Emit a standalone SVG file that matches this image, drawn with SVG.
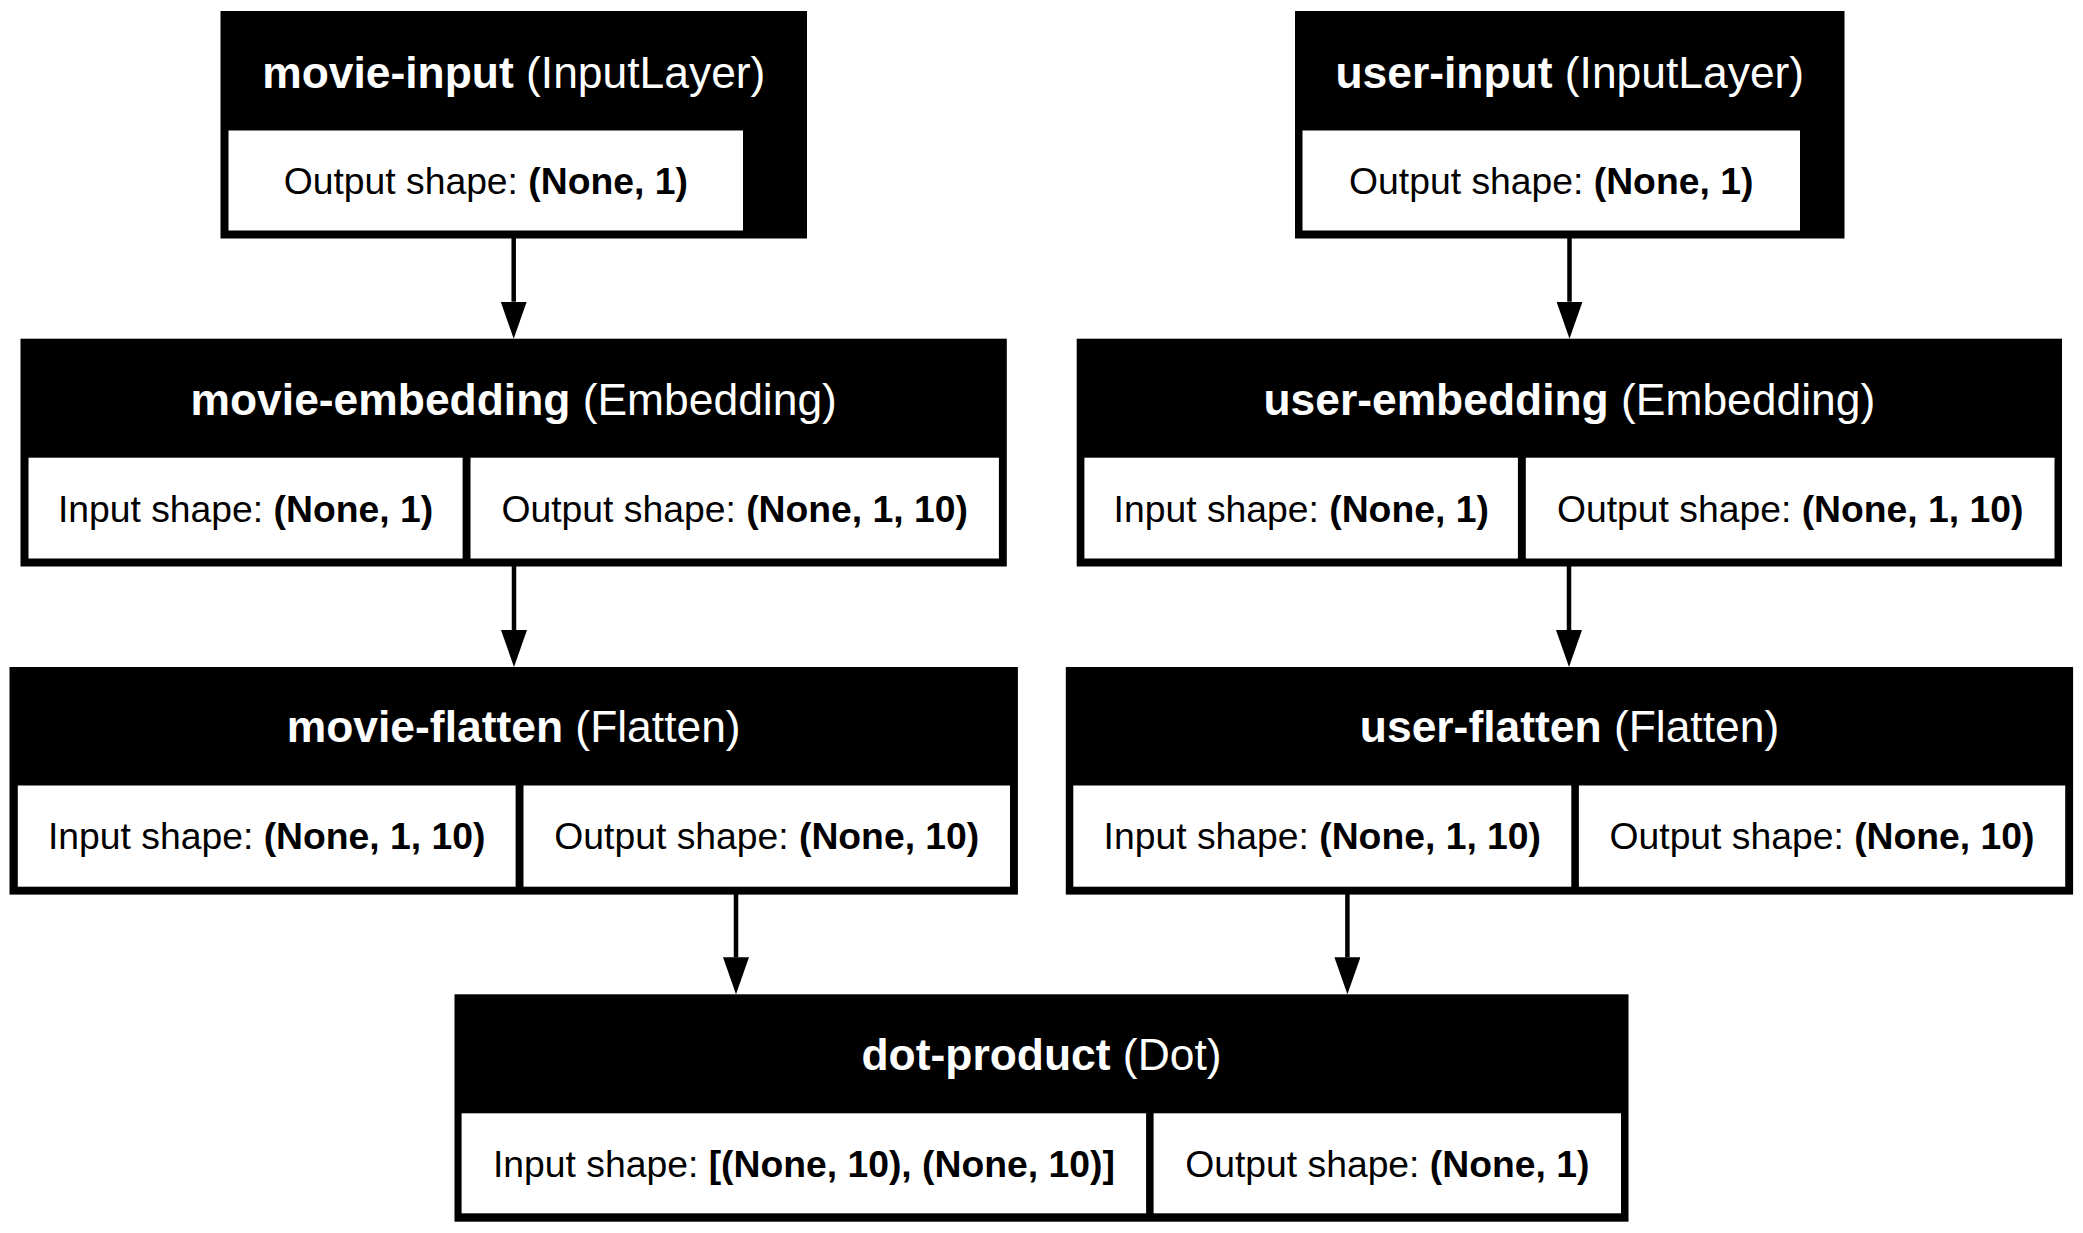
<svg xmlns="http://www.w3.org/2000/svg" width="2083" height="1233" viewBox="0 0 2083 1233">
<defs>
<style>
.box{fill:#000}
.cell{fill:#fff}
text{font-family:"Liberation Sans",Helvetica,Arial,sans-serif;text-anchor:middle}
.hdr{font-size:44.4px;fill:#fff}
.cel{font-size:37.3px;fill:#000}
.b{font-weight:bold}
.edge{stroke:#000;stroke-width:4.5;fill:none}
</style>
<marker id="arrow" viewBox="0 0 37 26" refX="0" refY="13" markerWidth="37" markerHeight="26" markerUnits="userSpaceOnUse" orient="auto">
<path d="M0,0 L37,13 L0,26 z" fill="#000"/>
</marker>
</defs>
<rect width="2083" height="1233" fill="#fff"/>

<g id="connectors">
<line class="edge" x1="513.7" y1="238" x2="513.7" y2="301.7" marker-end="url(#arrow)"/>
<line class="edge" x1="1569.5" y1="238" x2="1569.5" y2="301.7" marker-end="url(#arrow)"/>
<line class="edge" x1="514" y1="566" x2="514" y2="630" marker-end="url(#arrow)"/>
<line class="edge" x1="1569" y1="566" x2="1569" y2="630" marker-end="url(#arrow)"/>
<line class="edge" x1="736" y1="894" x2="736" y2="957.3" marker-end="url(#arrow)"/>
<line class="edge" x1="1347.4" y1="894" x2="1347.4" y2="957.3" marker-end="url(#arrow)"/>
</g>

<g id="movie-input">
<rect class="box" x="220.5" y="11" width="586.5" height="227.5"/>
<rect class="cell" x="228.5" y="130.5" width="514.5" height="100"/>
<text class="hdr" x="513.8" y="87.5"><tspan class="b">movie-input</tspan> (InputLayer)</text>
<text class="cel" x="485.8" y="194">Output shape: <tspan class="b">(None, 1)</tspan></text>
</g>

<g id="user-input">
<rect class="box" x="1295" y="11" width="549.5" height="227.5"/>
<rect class="cell" x="1302.5" y="130.5" width="497.5" height="100"/>
<text class="hdr" x="1569.8" y="87.5"><tspan class="b">user-input</tspan> (InputLayer)</text>
<text class="cel" x="1551.2" y="194">Output shape: <tspan class="b">(None, 1)</tspan></text>
</g>

<g id="movie-embedding">
<rect class="box" x="20.5" y="338.7" width="986.3" height="227.8"/>
<rect class="cell" x="28.5" y="457.7" width="434.1" height="100.8"/>
<rect class="cell" x="470.5" y="457.7" width="528.4" height="100.8"/>
<text class="hdr" x="513.7" y="414.5"><tspan class="b">movie-embedding</tspan> (Embedding)</text>
<text class="cel" x="245.5" y="521.5">Input shape: <tspan class="b">(None, 1)</tspan></text>
<text class="cel" x="734.7" y="521.5">Output shape: <tspan class="b">(None, 1, 10)</tspan></text>
</g>

<g id="user-embedding">
<rect class="box" x="1076.7" y="338.7" width="985.3" height="227.8"/>
<rect class="cell" x="1084.4" y="457.7" width="433.5" height="100.8"/>
<rect class="cell" x="1525.8" y="457.7" width="528.7" height="100.8"/>
<text class="hdr" x="1569.3" y="414.5"><tspan class="b">user-embedding</tspan> (Embedding)</text>
<text class="cel" x="1301.2" y="521.5">Input shape: <tspan class="b">(None, 1)</tspan></text>
<text class="cel" x="1790.2" y="521.5">Output shape: <tspan class="b">(None, 1, 10)</tspan></text>
</g>

<g id="movie-flatten">
<rect class="box" x="9.5" y="667" width="1008.4" height="227.6"/>
<rect class="cell" x="17.8" y="785.5" width="497.8" height="101.2"/>
<rect class="cell" x="523.5" y="785.5" width="486.5" height="101.2"/>
<text class="hdr" x="513.7" y="742.3"><tspan class="b">movie-flatten</tspan> (Flatten)</text>
<text class="cel" x="266.7" y="849.4">Input shape: <tspan class="b">(None, 1, 10)</tspan></text>
<text class="cel" x="766.8" y="849.4">Output shape: <tspan class="b">(None, 10)</tspan></text>
</g>

<g id="user-flatten">
<rect class="box" x="1065.8" y="667" width="1007.3" height="227.6"/>
<rect class="cell" x="1073.3" y="785.5" width="498" height="101.2"/>
<rect class="cell" x="1578.9" y="785.5" width="486.3" height="101.2"/>
<text class="hdr" x="1569.5" y="742.3"><tspan class="b">user-flatten</tspan> (Flatten)</text>
<text class="cel" x="1322.3" y="849.4">Input shape: <tspan class="b">(None, 1, 10)</tspan></text>
<text class="cel" x="1822" y="849.4">Output shape: <tspan class="b">(None, 10)</tspan></text>
</g>

<g id="dot-product">
<rect class="box" x="454.5" y="994.3" width="1174" height="227.4"/>
<rect class="cell" x="461.6" y="1113.3" width="684.5" height="100"/>
<rect class="cell" x="1153.6" y="1113.3" width="467.4" height="100"/>
<text class="hdr" x="1041.5" y="1069.8"><tspan class="b">dot-product</tspan> (Dot)</text>
<text class="cel" x="803.9" y="1176.6">Input shape: <tspan class="b">[(None, 10), (None, 10)]</tspan></text>
<text class="cel" x="1387.3" y="1176.6">Output shape: <tspan class="b">(None, 1)</tspan></text>
</g>
</svg>
